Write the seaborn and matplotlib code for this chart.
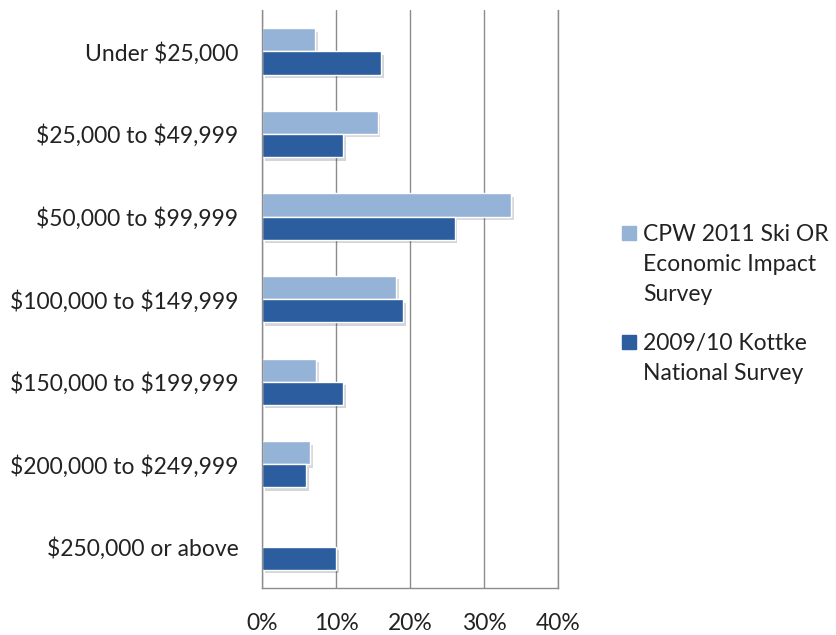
import pandas as pd
import numpy as np
import matplotlib
matplotlib.use('Agg')
import matplotlib.pyplot as plt
import matplotlib.patheffects as pe
from matplotlib.patches import Rectangle
import seaborn as sns

categories = ['Under $25,000', '$25,000 to $49,999', '$50,000 to $99,999',
              '$100,000 to $149,999', '$150,000 to $199,999',
              '$200,000 to $249,999', '$250,000 or above']
cpw = [7.2, 15.6, 33.6, 18.1, 7.3, 6.5, 0.0]
kottke = [16.1, 11.0, 26.0, 19.0, 11.0, 6.0, 10.0]
series = ['CPW 2011 Ski OR\nEconomic Impact\nSurvey', '2009/10 Kottke\nNational Survey']
colors = ['#95B3D7', '#2C5D9F']
xticks = [0, 10, 20, 30, 40]

df = pd.DataFrame({
    'income': categories * 2,
    'share': cpw + kottke,
    'survey': [series[0]] * len(categories) + [series[1]] * len(categories),
})

sns.set_style('white')
plt.rcParams['font.family'] = ['Lato', 'DejaVu Sans']
plt.rcParams['text.parse_math'] = False

W, H = 837, 635
fig = plt.figure(figsize=(W / 100, H / 100), dpi=100)
ax = fig.add_axes([0.313, 0.074, 0.354, 0.910])

sns.barplot(data=df, y='income', x='share', hue='survey', order=categories,
            hue_order=series, palette=colors, width=0.56, orient='h',
            saturation=1, ax=ax, legend=False)

shadow = [pe.SimplePatchShadow(offset=(2, -2.5), alpha=0.18), pe.Normal()]
for p in ax.patches:
    p.set_path_effects(shadow)

grid_c = '#8C8C8C'
txt_c = '#222222'
ax.set_xlim(0, 40)
ax.set_ylim(len(categories) - 0.5, -0.5)
ax.set_xticks(xticks)
ax.set_xticklabels([f'{t}%' for t in xticks])
ax.xaxis.grid(True, color=grid_c, lw=1)
ax.set_axisbelow(True)

ax.set_yticks(range(len(categories)))
ax.set_yticklabels(categories)
ax.set_yticks(np.arange(-0.5, len(categories), 1), minor=True)
ax.tick_params(axis='y', which='major', length=0, pad=17, labelsize=16.5, colors=txt_c)
ax.tick_params(axis='y', which='minor', length=8, color=grid_c, width=1)
ax.tick_params(axis='x', which='major', length=8, color=grid_c, width=1, pad=10,
               labelsize=16.5, colors=txt_c)
ax.set_xlabel('')
ax.set_ylabel('')

ax.spines['top'].set_visible(False)
for s in ['left', 'bottom', 'right']:
    ax.spines[s].set_color(grid_c)
    ax.spines[s].set_linewidth(1)

# legend: marker next to the first line of each label (Excel style)
y = 233
for label, c in zip(series, colors):
    fig.add_artist(Rectangle((622 / W, 1 - (y + 7) / H), 14 / W, 14 / H,
                             transform=fig.transFigure, color=c))
    for line in label.split('\n'):
        fig.text(643 / W, 1 - (y + 8) / H, line, fontsize=16.5, color=txt_c,
                 va='baseline', ha='left')
        y += 30
    y += 19

fig.savefig('out.png', dpi=100)
